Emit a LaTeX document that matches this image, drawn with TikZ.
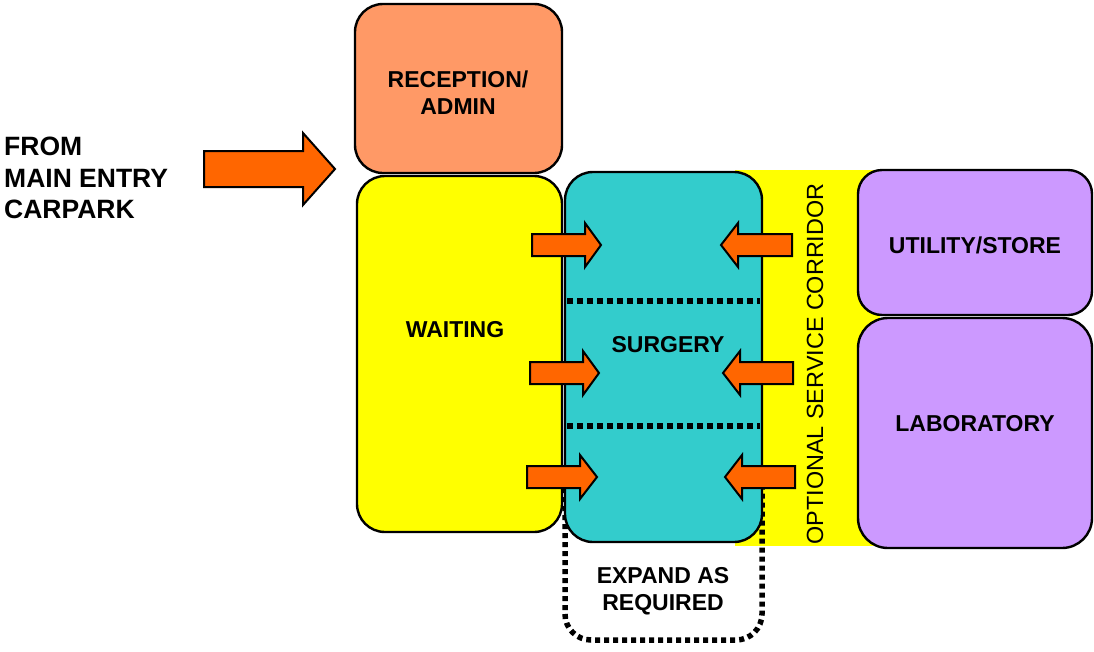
\documentclass[tikz,border=0pt]{standalone}
\usepackage{fontspec}
\setmainfont{Liberation Sans}

\definecolor{recepfill}{HTML}{FF9966}
\definecolor{waitfill}{HTML}{FFFF00}
\definecolor{surgfill}{HTML}{33CCCC}
\definecolor{labfill}{HTML}{CC99FF}
\definecolor{arrowfill}{HTML}{FF6600}

\tikzset{
	room/.style = {draw = black , line width = 2.4pt , rounded corners = 28pt , inner sep = 0pt},
	roomlbl/.style = {font = \fontsize{23}{27}\selectfont\bfseries , align = center , inner sep = 0pt},
	blockarrow/.style = {fill = arrowfill , draw = black , line width = 2pt , line join = miter},
	partition/.style = {line width = 6pt , dash pattern = on 6pt off 4pt}
}

% tail x, head base x, tip x, y, body half, head half
\newcommand\fatarrow[6]{%
	\filldraw[blockarrow] (#1,#4-#5) -- (#2,#4-#5) -- (#2,#4-#6) -- (#3,#4)
		-- (#2,#4+#6) -- (#2,#4+#5) -- (#1,#4+#5) -- cycle;
}

\begin{document}
\begin{tikzpicture}[x = 1pt , y = -1pt]
	\useasboundingbox (0,0) rectangle (1094,651);

	% service corridor behind the rooms
	\fill[waitfill] (735,170) rectangle (880,546);
	\node[rotate = 90 , font = \fontsize{23.4}{28}\selectfont , inner sep = 0pt] (corridor) at (815,364) {OPTIONAL SERVICE CORRIDOR};

	% expansion outline
	\draw[line width = 5.5pt , dash pattern = on 5pt off 4pt , rounded corners = 26pt]
		(565,470) -- (565,640) -- (762,640) -- (762,470);

	\node[room , fill = recepfill , minimum width = 207pt , minimum height = 169pt] (recep) at (458.5,88.5) {};
	\node[roomlbl] (recepl) at (458,93) {RECEPTION/\\ADMIN};

	\node[room , fill = waitfill , minimum width = 205pt , minimum height = 356pt] (waiting) at (459.5,354) {};
	\node[roomlbl] (waitingl) at (455,330) {WAITING};

	\node[room , fill = surgfill , minimum width = 197pt , minimum height = 370pt] (surgery) at (663.5,357) {};
	\node[roomlbl] (surgeryl) at (668,345) {SURGERY};

	\node[room , fill = labfill , minimum width = 234pt , minimum height = 145pt , rounded corners = 24pt] (store) at (975,242.5) {};
	\node[roomlbl] (storel) at (975,245) {UTILITY/STORE};

	\node[room , fill = labfill , minimum width = 234pt , minimum height = 230pt , rounded corners = 30pt] (lab) at (975,433) {};
	\node[roomlbl] (labl) at (975,424) {LABORATORY};

	\node[roomlbl] (expand) at (663,591) {EXPAND AS\\REQUIRED};

	% surgery partitions
	\draw[partition] (567,301) -- (760,301);
	\draw[partition] (567,426) -- (760,426);

	\node[font = \fontsize{26.5}{31.5}\selectfont\bfseries , align = left , anchor = west , inner sep = 0pt] (entry) at (4,178) {FROM\\MAIN ENTRY\\CARPARK};

	% entry arrow
	\fatarrow{204}{303}{335}{169}{18}{36}

	% door arrows into surgery
	\fatarrow{532}{585}{601}{245}{11}{22}
	\fatarrow{530}{583}{599}{373}{11}{22}
	\fatarrow{527}{580}{597}{477}{11}{22}
	\fatarrow{792}{738}{721}{245}{11}{22}
	\fatarrow{793}{740}{723}{373}{11}{22}
	\fatarrow{795}{742}{725}{477}{11}{22}
\end{tikzpicture}
\end{document}
